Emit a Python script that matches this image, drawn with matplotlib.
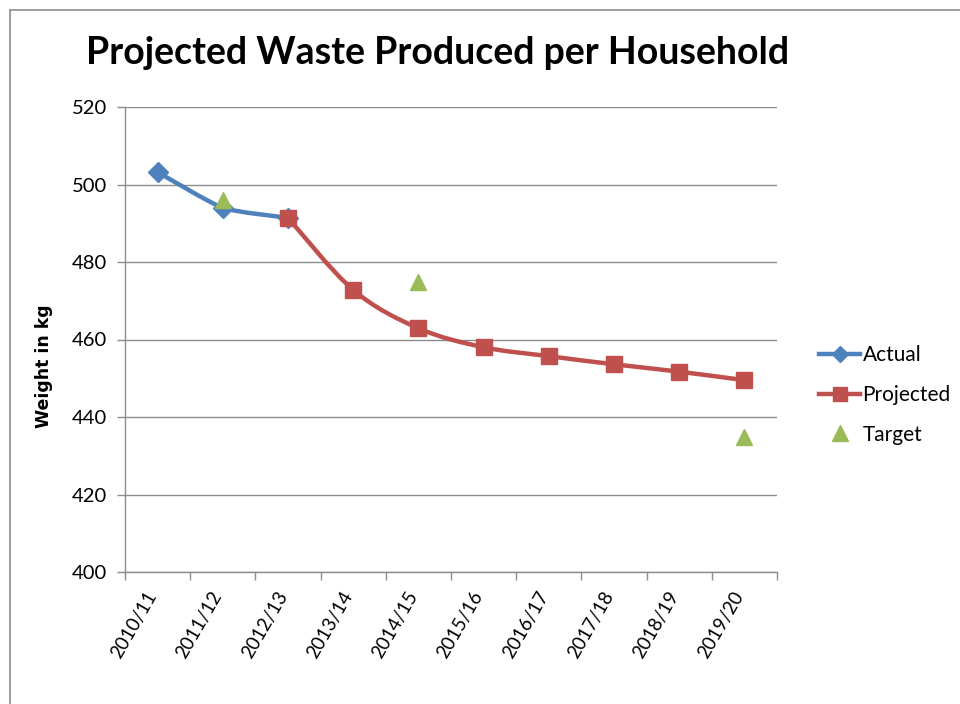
import matplotlib
matplotlib.use("Agg")
import matplotlib.pyplot as plt
from matplotlib.path import Path
from matplotlib.patches import PathPatch
from matplotlib.lines import Line2D
import numpy as np

categories = ["2010/11", "2011/12", "2012/13", "2013/14", "2014/15",
              "2015/16", "2016/17", "2017/18", "2018/19", "2019/20"]
actual_idx = [0, 1, 2]
actual_vals = [503.2, 494.0, 491.4]
projected_idx = [2, 3, 4, 5, 6, 7, 8, 9]
projected_vals = [491.4, 472.8, 462.9, 458.0, 455.7, 453.6, 451.7, 449.5]
target_idx = [1, 4, 9]
target_vals = [496.0, 474.8, 434.9]
y_ticks = [400, 420, 440, 460, 480, 500, 520]

BLUE = "#4F81BD"
RED = "#C0504D"
GREEN = "#9BBB59"
GRID = "#8c8c8c"

plt.rcParams['font.family'] = ['Lato', 'DejaVu Sans']

fig = plt.figure(figsize=(9.6, 7.04), dpi=100)
ax = fig.add_axes([125/960, 1-572/704, (777-125)/960, (572-107)/704])


def smooth_path(xs, ys, t=1/6):
    xs = np.asarray(xs, float)
    ys = np.asarray(ys, float)
    n = len(xs)
    verts = [(xs[0], ys[0])]
    codes = [Path.MOVETO]
    for i in range(n - 1):
        p0 = np.array([xs[max(i-1, 0)], ys[max(i-1, 0)]])
        p1 = np.array([xs[i], ys[i]])
        p2 = np.array([xs[i+1], ys[i+1]])
        p3 = np.array([xs[min(i+2, n-1)], ys[min(i+2, n-1)]])
        c1 = p1 + (p2 - p0) * t
        c2 = p2 - (p3 - p1) * t
        verts += [tuple(c1), tuple(c2), tuple(p2)]
        codes += [Path.CURVE4] * 3
    return Path(verts, codes)


for idx, vals, col, t in [(actual_idx, actual_vals, BLUE, 0.1),
                          (projected_idx, projected_vals, RED, 1/6)]:
    patch = PathPatch(smooth_path(idx, vals, t), facecolor='none', edgecolor=col,
                      lw=3.2, capstyle='round', joinstyle='round', zorder=3)
    ax.add_patch(patch)

ax.plot(actual_idx, actual_vals, ls='none', marker='D', ms=10, color=BLUE, zorder=4)
ax.plot(projected_idx, projected_vals, ls='none', marker='s', ms=11, color=RED, zorder=4)
ax.plot(target_idx, target_vals, ls='none', marker='^', ms=12, color=GREEN, zorder=5)

ax.set_xlim(-0.5, len(categories) - 0.5)
ax.set_ylim(400, 520)
ax.set_yticks(y_ticks)
ax.set_yticklabels([str(v) for v in y_ticks], fontsize=14.5)
ax.yaxis.grid(True, color=GRID, lw=1)
ax.set_axisbelow(True)

ax.set_xticks(np.arange(-0.5, len(categories), 1.0))
ax.set_xticklabels([])
ax.set_xticks(np.arange(len(categories)), minor=True)
ax.set_xticklabels(categories, minor=True, rotation=60, ha='right', va='baseline',
                   rotation_mode='anchor', fontsize=13.5)
ax.tick_params(axis='x', which='minor', length=0, pad=17)
ax.tick_params(axis='x', which='major', length=6, color=GRID, width=1)
ax.tick_params(axis='y', length=6, color=GRID, width=1, pad=7)

for s in ['top', 'right']:
    ax.spines[s].set_visible(False)
for s in ['left', 'bottom']:
    ax.spines[s].set_color(GRID)
    ax.spines[s].set_linewidth(1)

ax.set_ylabel("Weight in kg", fontsize=12.5, fontweight='bold',
              family=['DejaVu Sans'])
ax.yaxis.set_label_coords((53-125)/652, (572-366)/465)

fig.text(438/960, 1-53/704, "Projected Waste Produced per Household",
         ha='center', va='center', fontsize=27, fontweight='bold')

handles = [
    Line2D([], [], color=BLUE, lw=3.2, marker='D', ms=8),
    Line2D([], [], color=RED, lw=3.2, marker='s', ms=10),
    Line2D([], [], color=GREEN, ls='none', marker='^', ms=11),
]
leg = fig.legend(handles, ["Actual", "Projected", "Target"], loc='center left',
                 bbox_to_anchor=(800/960, 1-395/704), frameon=False, fontsize=15,
                 handlelength=2.0, handletextpad=0.1, labelspacing=0.95)

# chart border
fig.add_artist(Line2D([10/960, 10/960], [0, 1-10/704], transform=fig.transFigure,
                      color='#8c8c8c', lw=1.2))
fig.add_artist(Line2D([10/960, 1], [1-10/704, 1-10/704], transform=fig.transFigure,
                      color='#8c8c8c', lw=1.2))

fig.savefig("out.png", dpi=100)
